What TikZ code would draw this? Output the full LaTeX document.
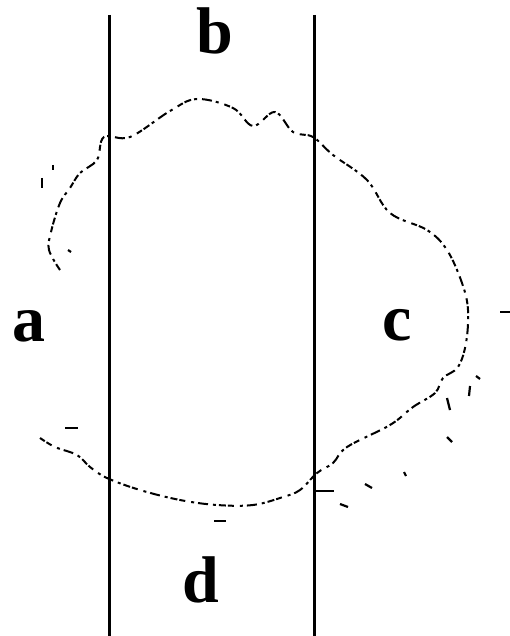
\documentclass[tikz,border=0pt]{standalone}
\usepackage{fontspec}
\setmainfont{Liberation Serif}
\begin{document}
\begin{tikzpicture}[x=1pt,y=-1pt,
  lbl/.style={font=\fontsize{66}{66}\selectfont\bfseries, inner sep=0pt, text=black},
  rail/.style={line width=3pt, black},
  rough/.style={line width=2pt, black, dash pattern=on 7pt off 3pt on 3pt off 5pt on 10pt off 4pt on 3pt off 6pt on 6pt off 2pt},
  speck/.style={line width=2.2pt, black}]
\useasboundingbox[fill=white] (0,0) rectangle (510,636);
% rails
\coordinate (l1) at (109,15); \coordinate (l2) at (109,636);
\coordinate (r1) at (314,15); \coordinate (r2) at (314,636);
\draw[rail] (l1) -- (l2);
\draw[rail] (r1) -- (r2);
% labels
\node[lbl, anchor=base] (b) at (215,54) {b};
\node[lbl, anchor=base] (a) at (29,341) {a};
\node[lbl, anchor=base] (c) at (397,340) {c};
\node[lbl, anchor=base] (d) at (201,602) {d};
% broken outline
\draw[rough] plot[smooth, tension=0.6] coordinates {
 (60,270) (49,250) (51,232) (60,203) (70,188) (80,173) (97,160) (104,137)
 (130,137) (170,111) (197,99) (233,108) (253,126) (275,112) (293,132) (313,137)
 (333,155) (367,180) (390,213) (427,230) (447,250) (462,283) (468,310)
 (466,343) (458,367) (443,378) (435,393) (413,407) (390,425) (347,447)
 (333,463) (317,473) (300,490) (283,497) (253,505) (217,505) (180,500)
 (140,490) (107,478) (90,467) (77,455) (55,447) (40,438)};
% scattered specks
\draw[speck] (42,178) -- (42,188);
\draw[speck] (53,165) -- (53,170);
\draw[speck] (68,250) -- (71,252);
\draw[speck] (500,312) -- (510,312);
\draw[speck] (476,376) -- (480,379);
\draw[speck] (470,386) -- (469,396);
\draw[speck] (447,437) -- (452,442);
\draw[speck] (365,484) -- (372,488);
\draw[speck] (340,504) -- (348,507);
\draw[speck] (404,472) -- (406,476);
\draw[speck] (313,491) -- (334,491);
\draw[speck] (214,521) -- (226,521);
\draw[speck] (65,428) -- (78,428);
\draw[speck] (447,398) -- (450,410);
\end{tikzpicture}
\end{document}
